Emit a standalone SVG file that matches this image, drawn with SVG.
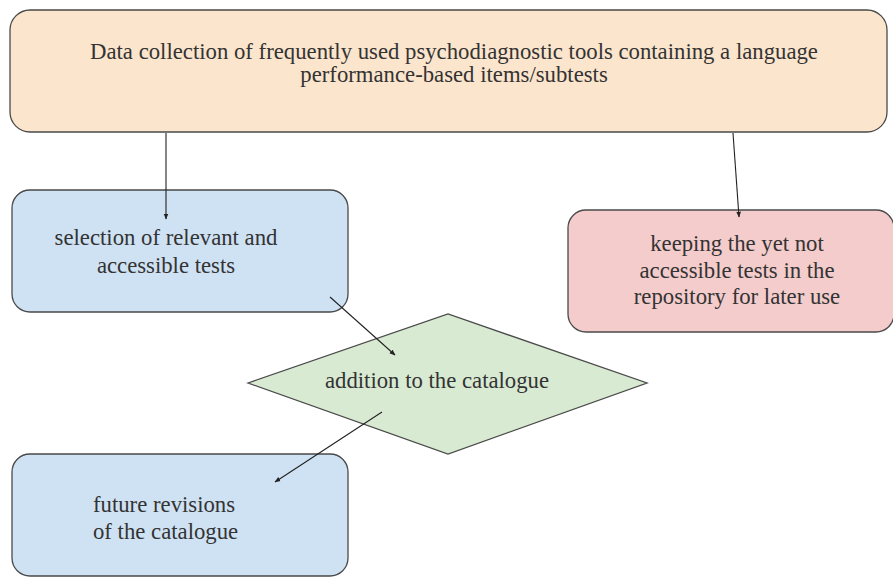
<svg xmlns="http://www.w3.org/2000/svg" width="893" height="577" viewBox="0 0 893 577">
<defs>
<style>
.box{stroke:#4a4a4a;stroke-width:1.3}
.t{font-size:21px;fill:#333333;text-anchor:middle}
.s{text-anchor:start}
.c{stroke:#222222;stroke-width:1.1;fill:none;marker-end:url(#ah)}
</style>
<marker id="ah" viewBox="0 0 10 10" refX="9" refY="5" markerWidth="6" markerHeight="6" orient="auto" markerUnits="userSpaceOnUse">
<path d="M0,1 L10,5 L0,9 z" fill="#222222"/>
</marker>
</defs>
<rect width="893" height="577" fill="#ffffff"/>
<g id="node-data">
<rect class="box" x="10" y="10" width="877" height="122" rx="20" fill="#fce5cd"/>
<text class="t" transform="translate(454,59) scale(1.083)" x="0" y="0" font-family="Times New Roman">Data collection of frequently used psychodiagnostic tools containing a language</text>
<text class="t" transform="translate(454,82) scale(1.083)" x="0" y="0" font-family="serif">performance-based items/subtests</text>
</g>
<g id="node-selection">
<rect class="box" x="12" y="190" width="336" height="122" rx="18" fill="#cfe2f3"/>
<text class="t" transform="translate(166,245) scale(1.083)" x="0" y="0" font-family="Times New Roman">selection of relevant and</text>
<text class="t" transform="translate(166,273) scale(1.083)" x="0" y="0" font-family="serif">accessible tests</text>
</g>
<g id="node-keeping">
<rect class="box" x="568" y="210" width="326" height="122" rx="18" fill="#f4cccc"/>
<text class="t" transform="translate(737,251) scale(1.083)" x="0" y="0" font-family="Times New Roman">keeping the yet not</text>
<text class="t" transform="translate(737,278) scale(1.083)" x="0" y="0" font-family="serif">accessible tests in the</text>
<text class="t" transform="translate(737,304) scale(1.083)" x="0" y="0" font-family="Times New Roman">repository for later use</text>
</g>
<g id="node-addition">
<polygon class="box" points="248,383 448,314 647,383 448,454" fill="#d9ead3"/>
<text class="t" transform="translate(437,388) scale(1.083)" x="0" y="0" font-family="serif">addition to the catalogue</text>
</g>
<g id="node-future">
<rect class="box" x="12" y="454" width="336" height="122" rx="18" fill="#cfe2f3"/>
<text class="t s" transform="translate(93,512) scale(1.083)" x="0" y="0" font-family="Times New Roman">future revisions</text>
<text class="t s" transform="translate(93,539) scale(1.083)" x="0" y="0" font-family="serif">of the catalogue</text>
</g>
<g id="connectors">
<path class="c" d="M166,133 L166,219"/>
<path class="c" d="M733,133 L739,217"/>
<path class="c" d="M330,297 L395,355"/>
<path class="c" d="M382,412 L275,482"/>
</g>
</svg>
